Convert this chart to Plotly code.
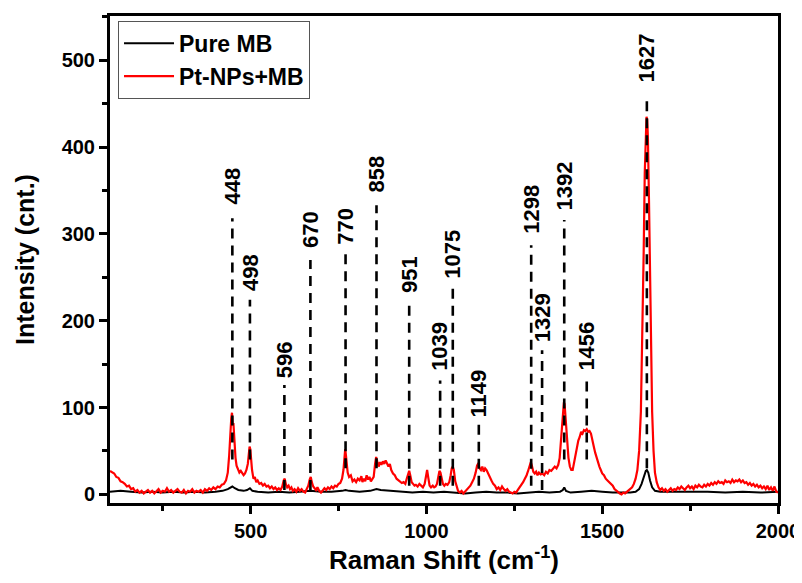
import plotly.graph_objects as go

# ---------------- data ----------------
red_x = [100,106,112,118,124,130,136,142,148,154,160,166,172,178,184,190,196,
         202,208,214,220,226,232,238,244,250,256,262,268,274,280,286,292,298,304,310,316,322,328,334,340,346,352,358,364,370,376,382,388,394,400,406,412,418,424,430,
         435,439,442,445,447,449,451,454,457,460,464,468,472,476,480,484,488,492,495,497,499,501,504,508,512,516,520,525,530,535,540,545,550,555,560,565,570,575,580,585,590,594,597,600,604,608,612,616,620,625,630,635,640,645,650,655,660,664,668,671,674,678,682,686,690,695,700,705,710,715,720,725,730,735,740,745,750,755,760,764,767,769,771,773,776,780,785,790,795,800,805,810,815,818,822,826,830,834,838,842,846,850,854,857,860,864,868,872,876,880,884,888,892,896,900,905,910,915,920,925,930,935,940,944,948,951,954,958,962,966,970,975,980,985,990,995,999,1002,1005,1009,1013,1018,1022,1026,1030,1034,1037,1040,1043,1047,1051,1055,1060,1065,1069,1072,1075,1078,1082,1086,1090,1095,1100,1105,1110,1115,1120,1125,1130,1135,1140,1144,1148,1151,1155,1159,1163,1167,1171,1175,1180,1185,1190,1195,1200,1205,1210,1215,1220,1225,1230,1235,1240,1245,1250,1255,1260,1265,1270,1275,1280,1285,1290,1294,1297,1300,1304,1308,1312,1316,1320,1325,1330,1335,1340,1345,1350,1355,1360,1365,1370,1375,1379,1383,1386,1389,1391,1393,1395,1398,1401,1404,1408,1412,1416,1420,1424,1428,1432,1436,1440,1444,1448,1452,1456,1460,1464,1468,1472,1476,1480,1484,1488,1492,1496,1500,1505,1510,1515,1520,1525,1530,1535,1540,1545,1550,1555,1560,1565,1570,1575,1580,1585,1590,1595,1600,1605,1610,1614,1618,1621,1624,1626,1628,1630,1633,1636,1639,1642,1646,1650,1655,1660,1665,1670,1675,1680,1685,1690,1695,1700,1705,1710,1715,1720,1725,1730,1735,1740,1745,1750,1755,1760,1765,1770,1775,1780,1785,1790,1795,1800,1805,1810,1815,1820,1825,1830,1835,1840,1845,1850,1855,1860,1865,1870,1875,1880,1885,1890,1895,1900,1905,1910,1915,1920,1925,1930,1935,1940,1945,1950,1955,1960,1965,1970,1975,1980,1985,1990,1995,2000]
red_y = [27,25,24,20,19,15,14,12,9,10,6,7,3,5,2,4,1,
         3,5,2,4,1,3,6,2,4,3,7,3,5,2,4,6,3,2,5,1,4,3,6,2,4,3,5,2,6,4,7,5,8,6,9,8,11,12,16,
         25,45,70,88,94,80,82,60,42,33,28,25,27,24,22,24,28,35,48,55,52,40,28,18,20,14,16,12,13,10,12,9,10,7,9,6,8,5,7,5,9,16,18,12,8,10,6,8,4,6,3,7,4,6,3,2,6,10,17,20,14,9,7,5,8,4,2,5,7,5,8,6,9,7,10,9,12,13,18,28,42,52,45,35,25,20,22,15,17,14,18,16,21,14,18,15,22,17,20,15,18,20,35,43,38,32,37,34,38,35,39,36,32,35,28,24,22,18,16,15,13,14,12,18,25,27,22,14,12,10,11,9,12,10,8,12,22,28,20,10,8,10,8,9,12,20,27,25,18,12,10,12,11,14,22,30,32,28,15,8,4,2,4,1,3,5,8,10,14,18,25,33,36,30,28,32,26,30,28,24,20,16,12,10,6,8,5,9,6,4,6,3,2,1,3,2,5,8,10,14,18,22,28,34,37,33,26,24,26,22,25,23,24,22,26,24,28,27,30,32,30,34,42,65,85,100,106,104,92,72,55,42,32,28,28,36,46,56,62,66,72,70,74,73,75,72,73,70,64,55,48,42,36,32,28,24,22,18,16,14,12,10,6,4,2,1,0,2,1,3,4,6,8,12,18,28,50,95,170,280,370,420,435,432,410,340,250,160,95,50,25,14,8,5,7,4,6,3,5,7,4,6,5,8,6,9,7,5,8,10,7,9,6,10,8,11,9,8,11,9,12,10,13,11,14,12,15,13,14,12,16,14,15,13,17,14,16,15,17,14,16,13,14,11,13,10,12,9,11,8,10,7,9,6,10,5,8,4,9,3,2]

black_x = [100,130,160,190,220,250,280,310,340,370,400,420,435,442,448,455,465,480,490,498,505,520,550,580,610,640,670,700,730,760,770,780,810,840,858,870,900,930,960,990,1020,1050,1080,1110,1140,1170,1200,1230,1260,1290,1320,1350,1380,1388,1392,1397,1410,1440,1470,1500,1530,1560,1580,1595,1605,1612,1618,1624,1627,1631,1636,1642,1650,1665,1700,1750,1800,1850,1900,1950,2000]
black_y = [3,4,3,2,3,2,3,2,3,2,3,4,6,8,9,7,5,4,5,7,4,3,2,3,2,3,4,3,3,4,5,4,3,4,6,5,4,3,2,3,2,3,2,1,2,3,2,2,1,2,3,2,3,5,8,4,2,3,4,3,2,2,2,3,6,12,20,27,28,25,16,8,4,3,3,3,3,2,3,2,3]

peak_labels = ["448","498","596","670","770","858","951","1039","1075","1149","1298","1329","1392","1456","1627"]
peak_pos = [448,498,596,670,770,858,951,1039,1075,1149,1298,1329,1392,1456,1627]
label_y = [355,256,155,305,309,369,253,170,277,116,328,203,355,171,503]
line_top = [318,224,126,270,278,333,224,131,241,80,287,166,316,131,454]
line_bottom = [40,40,5,5,30,30,10,10,10,10,10,5,40,40,30]

x_ticks = [500,1000,1500,2000]
y_ticks = [0,100,200,300,400,500]

FONT = "Liberation Sans, Arial, sans-serif"

fig = go.Figure()
fig.add_trace(go.Scatter(x=black_x, y=black_y, mode="lines", name="Pure MB",
                         line=dict(color="black", width=2)))
fig.add_trace(go.Scatter(x=red_x, y=red_y, mode="lines", name="Pt-NPs+MB",
                         line=dict(color="#ff0000", width=2.2)))

shapes = []
annotations = []
for lab, px, ly, lt, lb in zip(peak_labels, peak_pos, label_y, line_top, line_bottom):
    shapes.append(dict(type="line", xref="x", yref="y", x0=px, x1=px, y0=lb, y1=lt,
                       line=dict(color="black", width=2.6, dash="10px,7px"), layer="above"))
    annotations.append(dict(x=px, y=ly, xref="x", yref="y", text=lab, showarrow=False,
                            textangle=-90, xanchor="center", yanchor="middle",
                            font=dict(family=FONT, size=22, color="black", weight="bold")))

axis_common = dict(showline=True, linewidth=3, linecolor="black", mirror=True,
                   ticks="outside", ticklen=8, tickwidth=2.5, tickcolor="black",
                   showgrid=False, zeroline=False, automargin=False,
                   tickfont=dict(family=FONT, size=20, color="black", weight="bold"))

# page body has an 8px margin, so the figure is 8px smaller and offset
fig.update_layout(
    width=794, height=575,
    margin=dict(l=102, r=24, t=8, b=80),
    paper_bgcolor="white", plot_bgcolor="white",
    showlegend=True,
    legend=dict(x=0.012, y=0.99, xanchor="left", yanchor="top",
                bgcolor="white", bordercolor="#555555", borderwidth=1,
                font=dict(family=FONT, size=23, color="black", weight="bold"),
                tracegroupgap=0, itemwidth=50),
    shapes=shapes,
    annotations=annotations,
    xaxis=dict(range=[100, 2000], tickvals=x_ticks,
               minor=dict(dtick=250, tick0=0, ticks="outside", ticklen=5, tickwidth=2.5, tickcolor="black"),
               title=dict(text="Raman Shift (cm<sup>-1</sup>)", standoff=10,
                          font=dict(family=FONT, size=26, color="black", weight="bold")),
               **axis_common),
    yaxis=dict(range=[-10, 551], tickvals=y_ticks,
               minor=dict(dtick=50, tick0=0, ticks="outside", ticklen=5, tickwidth=2.5, tickcolor="black"),
               title=dict(text="Intensity (cnt.)", standoff=20,
                          font=dict(family=FONT, size=25, color="black", weight="bold")),
               **axis_common),
)

fig.write_html("out.html")
